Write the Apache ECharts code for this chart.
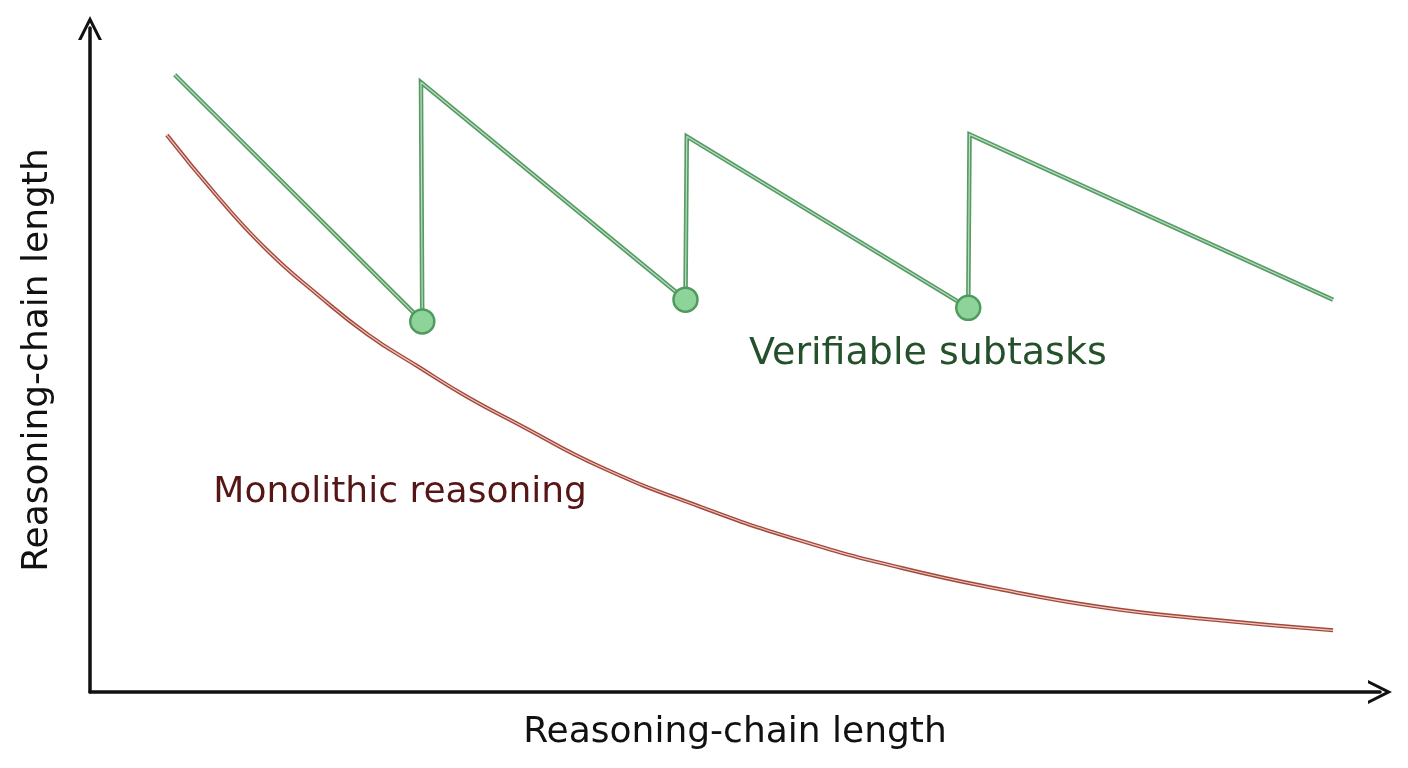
<!DOCTYPE html>
<html><head><meta charset="utf-8">
<script src="https://cdn.jsdelivr.net/npm/echarts@6/dist/echarts.min.js"></script>
<style>html,body{margin:0;padding:0;background:#fff}#c{width:1408px;height:768px}</style>
</head><body><div id="c"></div>
<script>
// Data (arbitrary units)
const verifiableX = [6.5, 25.5, 25.4, 45.7, 45.8, 67.4, 67.5, 95.4];
const verifiableY = [91.1, 54.7, 90.0, 57.9, 82.0, 56.7, 82.3, 57.9];
const checkpointX = [25.5, 45.7, 67.4];
const checkpointY = [54.7, 57.9, 56.7];
const monolithicX = [5.9, 9.8, 13.6, 17.5, 21.3, 25.2, 29.0, 32.8, 39.2, 46.9, 54.6, 62.3, 70.0, 77.7, 85.4, 95.4];
const monolithicY = [82.2, 73.1, 65.2, 58.6, 52.8, 48.0, 43.5, 39.6, 33.2, 27.3, 22.3, 18.3, 15.1, 12.5, 10.8, 9.1];
const labelVerifiable = "Verifiable subtasks";
const labelMonolithic = "Monolithic reasoning";
const axisTitle = "Reasoning-chain length";
const labelVerifiablePos = [64.3, 49.8];
const labelMonolithicPos = [23.8, 29.4];

const font = "'DejaVu Sans', 'Noto Sans', sans-serif";
const zip = (a, b) => a.map((v, i) => [v, b[i]]);
const chevron = 'path://M5,0 L10,10 L8.6,10 L5,2.8 L1.4,10 L0,10 Z';

const chart = echarts.init(document.getElementById('c'));
chart.setOption({
  animation: false,
  backgroundColor: '#ffffff',
  grid: { left: 90, right: 28, top: 28, bottom: 76 },
  xAxis: {
    type: 'value', min: 0, max: 99,
    name: axisTitle, nameLocation: 'middle', nameGap: 23,
    nameTextStyle: { fontFamily: font, fontSize: 36, color: '#111' },
    axisLine: { show: true, symbol: ['none', chevron], symbolSize: [24, 26],
      lineStyle: { color: '#111', width: 3.5 } },
    axisTick: { show: false }, axisLabel: { show: false }, splitLine: { show: false }
  },
  yAxis: {
    type: 'value', min: 0, max: 98,
    name: axisTitle, nameLocation: 'middle', nameGap: 34,
    nameTextStyle: { fontFamily: font, fontSize: 36, color: '#111' },
    axisLine: { show: true, symbol: ['none', chevron], symbolSize: [24, 26],
      lineStyle: { color: '#111', width: 3.5 } },
    axisTick: { show: false }, axisLabel: { show: false }, splitLine: { show: false }
  },
  series: [
    { type: 'line', data: zip(monolithicX, monolithicY), smooth: 0.5, symbol: 'none',
      lineStyle: { color: '#a4473b', width: 4 }, z: 2 },
    { type: 'line', data: zip(monolithicX, monolithicY), smooth: 0.5, symbol: 'none',
      lineStyle: { color: 'rgba(255,232,226,0.8)', width: 1.2 }, z: 3 },
    { type: 'line', data: zip(verifiableX, verifiableY), symbol: 'none',
      lineStyle: { color: '#559c64', width: 4.5, join: 'miter' }, z: 4 },
    { type: 'line', data: zip(verifiableX, verifiableY), symbol: 'none',
      lineStyle: { color: 'rgba(232,250,234,0.7)', width: 1.2 }, z: 5 },
    { type: 'scatter', data: zip(checkpointX, checkpointY), symbol: 'circle', symbolSize: 24,
      itemStyle: { color: '#8ed39a', borderColor: '#4f9a5e', borderWidth: 2.5, opacity: 1 }, z: 6 },
    { type: 'scatter', symbolSize: 0, silent: true, z: 7, itemStyle: { opacity: 1 },
      data: [
        { value: labelVerifiablePos, label: { show: true, position: 'inside', formatter: labelVerifiable,
          fontFamily: font, fontSize: 38, color: '#24502b' } },
        { value: labelMonolithicPos, label: { show: true, position: 'inside', formatter: labelMonolithic,
          fontFamily: font, fontSize: 36, color: '#571616' } }
      ] }
  ]
});
</script></body></html>
